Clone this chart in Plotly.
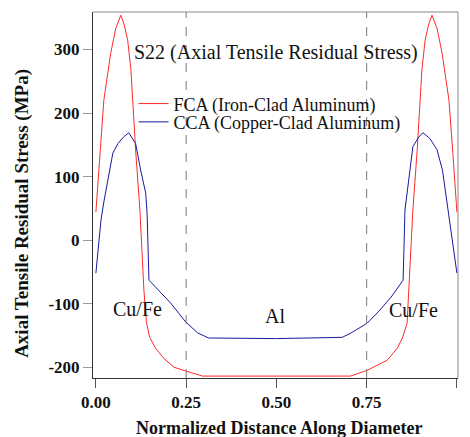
import plotly.graph_objects as go

# normalized distance along diameter and axial stress (MPa)
fca_x = [0.0, 0.011, 0.022, 0.041, 0.055, 0.069, 0.078, 0.088, 0.097, 0.110, 0.122, 0.133,
         0.140, 0.149, 0.165, 0.188, 0.216, 0.249, 0.295, 0.500, 0.705, 0.751, 0.784, 0.807,
         0.835, 0.849, 0.862, 0.867, 0.878, 0.890, 0.903, 0.912, 0.922, 0.931, 0.945, 0.959,
         0.978, 0.989, 1.0]
fca_y = [44, 135, 220, 294, 333, 354, 340, 315, 268, 142, 47, -79,
         -129, -153, -170, -186, -200, -206, -214, -214, -214, -205, -196, -189,
         -170, -154, -131, -79, 47, 142, 268, 315, 340, 354, 333, 294,
         220, 135, 44]

cca_x = [0.0, 0.014, 0.022, 0.033, 0.047, 0.061, 0.076, 0.091, 0.110, 0.124, 0.138, 0.142,
         0.147, 0.152, 0.180, 0.207, 0.249, 0.282, 0.312, 0.500, 0.682, 0.704, 0.751, 0.787,
         0.820, 0.851, 0.853, 0.856, 0.862, 0.878, 0.894, 0.906, 0.925, 0.945, 0.960, 0.972,
         0.986, 1.0]
cca_y = [-52, 31, 60, 94, 137, 152, 162, 169, 152, 110, 74, 40,
         -63, -66, -83, -99, -129, -146, -154, -155, -153, -147, -131, -110,
         -88, -63, -20, 47, 74, 147, 162, 169, 160, 142, 110, 63,
         10, -52]

x_ticks = [0, 0.25, 0.5, 0.75, 1.0]
x_tick_labels = ["0.00", "0.25", "0.50", "0.75", "1.00"]
y_ticks = [-200, -100, 0, 100, 200, 300]
y_tick_labels = ["-200", "-100", "0", "100", "200", "300"]

zone_labels = ["Cu/Fe", "Al", "Cu/Fe"]
zone_x = [0.115, 0.495, 0.88]
zone_y = [-108, -119, -110]
boundaries = [0.25, 0.75]

font = "Liberation Serif"

fig = go.Figure()
fig.add_trace(go.Scatter(x=fca_x, y=fca_y, mode="lines", name="FCA (Iron-Clad Aluminum)",
                         legend="legend", line=dict(color="#ff2a2a", width=1)))
fig.add_trace(go.Scatter(x=cca_x, y=cca_y, mode="lines", name="CCA (Copper-Clad Aluminum)",
                         legend="legend2", line=dict(color="#1a1aa0", width=1)))

for b in boundaries:
    fig.add_vline(x=b, line=dict(color="#777777", width=1, dash="dash"))

for t, x, y in zip(zone_labels, zone_x, zone_y):
    fig.add_annotation(x=x, y=y, text=t, showarrow=False,
                       font=dict(family=font, size=20, color="#111111"))

fig.add_annotation(x=0.5, y=0.888, xref="paper", yref="paper", text="S22 (Axial Tensile Residual Stress)",
                   showarrow=False, yanchor="middle", font=dict(family=font, size=20, color="#111111"))

# axis titles placed as annotations
fig.add_annotation(x=0.51, y=-0.137, xref="paper", yref="paper", text="<b>Normalized Distance Along Diameter</b>",
                   showarrow=False, yanchor="middle", font=dict(family=font, size=18, color="#111111"))
fig.add_annotation(x=-0.193, y=0.45, xref="paper", yref="paper", text="<b>Axial Tensile Residual Stress (MPa)</b>",
                   showarrow=False, textangle=-90, xanchor="center", yanchor="middle",
                   font=dict(family=font, size=19, color="#111111"))

# grey top and right frame
fig.add_shape(type="line", xref="paper", yref="paper", x0=0, x1=1, y0=1, y1=1,
              line=dict(color="#888888", width=1))
fig.add_shape(type="line", xref="paper", yref="paper", x0=1, x1=1, y0=0, y1=1,
              line=dict(color="#888888", width=1))

legend_style = dict(x=0.111, xanchor="left", yanchor="middle", bgcolor="rgba(0,0,0,0)",
                    font=dict(family=font, size=18, color="#111111"), itemwidth=30)

# the page body adds an 8px offset, so the figure is sized to fit the window
fig.update_layout(
    width=462, height=429,
    margin=dict(l=85, r=12, t=4, b=59),
    plot_bgcolor="white", paper_bgcolor="white",
    font=dict(family=font, color="#111111"),
    showlegend=True,
    legend=dict(y=0.749, **legend_style),
    legend2=dict(y=0.699, **legend_style),
    xaxis=dict(range=[-0.008, 1.003], tickvals=x_ticks, ticktext=x_tick_labels, automargin=False,
               showgrid=False, zeroline=False, showline=True, linecolor="#333333",
               ticks="outside", ticklen=9, tickcolor="#555555",
               tickfont=dict(family=font, size=17, weight="bold")),
    yaxis=dict(range=[-217, 359], tickvals=y_ticks, ticktext=y_tick_labels, automargin=False,
               showgrid=False, zeroline=False, showline=True, linecolor="#333333",
               ticks="outside", ticklen=9, tickcolor="#999999",
               tickfont=dict(family=font, size=17, weight="bold")),
)

fig.write_html("out.html")
